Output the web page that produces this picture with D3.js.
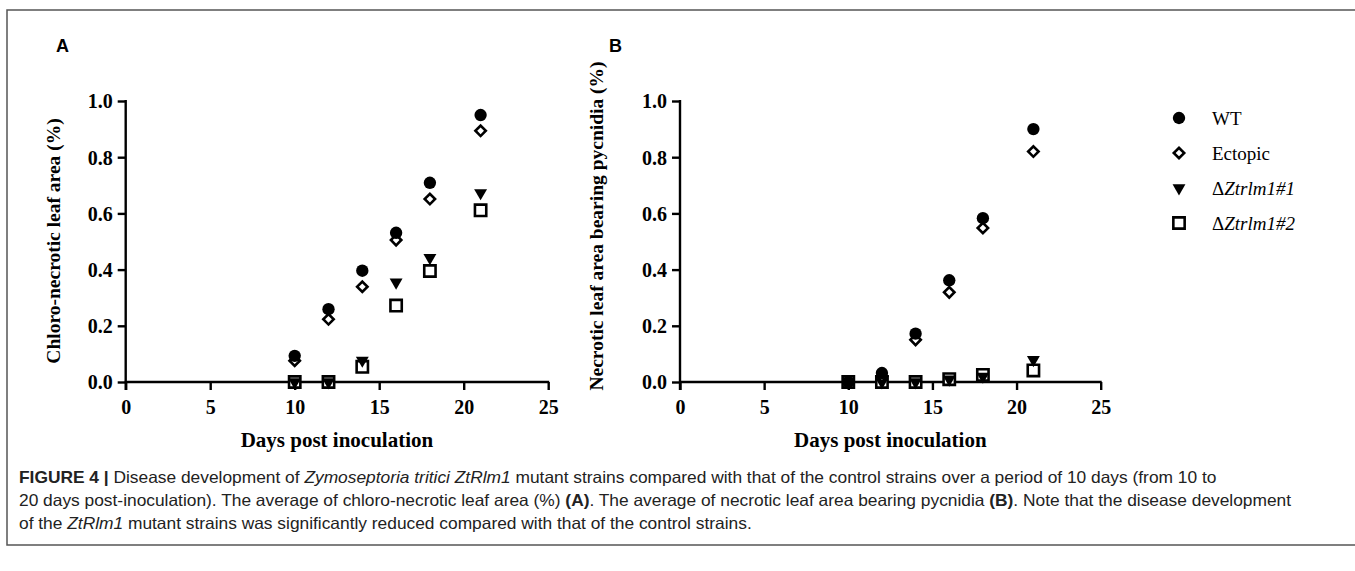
<!DOCTYPE html>
<html>
<head>
<meta charset="utf-8">
<script src="https://cdn.jsdelivr.net/npm/d3@7"></script>
<style>
  body { margin: 0; background: #fff; }
  svg { display: block; }
  .axis path, .axis line { stroke: #000; stroke-width: 2.4; }
  .axis text { font-family: "Liberation Serif", serif; font-weight: bold; font-size: 20px; fill: #000; }
</style>
</head>
<body>
<div id="chart"></div>
<script>
// data
var days = [10, 12, 14, 16, 18, 21];
var strains = ["WT", "Ectopic", "\u0394Ztrlm1#1", "\u0394Ztrlm1#2"];

// panel A: chloro-necrotic leaf area
var a_wt = [0.093, 0.259, 0.396, 0.531, 0.709, 0.95];
var a_ectopic = [0.076, 0.223, 0.339, 0.505, 0.651, 0.894];
var a_ko1 = [0.0, 0.0, 0.077, 0.355, 0.442, 0.673];
var a_ko2 = [0.0, 0.0, 0.054, 0.272, 0.395, 0.611];

// panel B: necrotic leaf area bearing pycnidia
var b_wt = [0.0, 0.032, 0.172, 0.362, 0.583, 0.90];
var b_ectopic = [0.0, 0.02, 0.15, 0.319, 0.548, 0.82];
var b_ko1 = [0.0, 0.0, 0.0, 0.01, 0.02, 0.079];
var b_ko2 = [0.0, 0.0, 0.0, 0.01, 0.025, 0.041];

var x_ticks = [0, 5, 10, 15, 20, 25];
var y_ticks = [0, 0.2, 0.4, 0.6, 0.8, 1.0];

var W = 1355, H = 571;

var svg = d3.select("#chart").append("svg")
    .attr("width", W)
    .attr("height", H);

// figure frame
svg.append("rect")
    .attr("x", 7).attr("y", 10)
    .attr("width", W + 10).attr("height", 535)
    .attr("fill", "none")
    .attr("stroke", "#555")
    .attr("stroke-width", 1.5);

// *** MARKERS *** //
var marker_styles = [
  { type: d3.symbolCircle, size: 120, rotate: 0, fill: "#000", stroke: "none" },
  { type: d3.symbolSquare, size: 54, rotate: 45, fill: "#fff", stroke: "#000" },
  { type: d3.symbolTriangle, size: 72, rotate: 180, fill: "#000", stroke: "none" },
  { type: d3.symbolSquare, size: 128, rotate: 0, fill: "#fff", stroke: "#000" }
];

var draw_marker = function(g, style, x, y) {
  g.append("path")
      .attr("d", d3.symbol().type(style.type).size(style.size)())
      .attr("transform", "translate(" + x + "," + y + ") rotate(" + style.rotate + ")")
      .attr("fill", style.fill)
      .attr("stroke", style.stroke)
      .attr("stroke-width", 2.6);
}

// *** PANEL *** //
var draw_panel = function(opts) {
  var x = d3.scaleLinear().domain([0, 25]).range([opts.x0, opts.x1]);
  var y = d3.scaleLinear().domain([0, 1]).range([382, 101]);

  var g = svg.append("g");

  g.append("g")
      .attr("class", "axis")
      .attr("transform", "translate(0,382)")
      .call(d3.axisBottom(x).tickValues(x_ticks).tickSize(8).tickPadding(5).tickSizeOuter(0))
      .call(function(s) { s.select(".domain").attr("d", "M" + (opts.x0 - 1) + ",0H" + (opts.x1 + 1)); });

  g.append("g")
      .attr("class", "axis")
      .attr("transform", "translate(" + opts.x0 + ",0)")
      .call(d3.axisLeft(y).tickValues(y_ticks).tickFormat(d3.format(".1f")).tickSize(8).tickPadding(5).tickSizeOuter(0))
      .call(function(s) { s.select(".domain").attr("d", "M0,390V100"); });

  g.selectAll(".axis .tick text").each(function() {
    var t = d3.select(this);
    if (t.attr("y") && +t.attr("y") > 0) t.attr("dy", "0.95em");
    else t.attr("dy", "0.34em");
  });

  // axis titles
  g.append("text")
      .attr("x", (opts.x0 + opts.x1) / 2)
      .attr("y", 447)
      .attr("text-anchor", "middle")
      .style("font-family", "Liberation Serif, serif")
      .style("font-weight", "bold")
      .style("font-size", "21px")
      .text("Days post inoculation");

  g.append("text")
      .attr("transform", "translate(" + opts.title_x + "," + opts.title_y + ") rotate(-90)")
      .attr("text-anchor", "middle")
      .style("font-family", "Liberation Serif, serif")
      .style("font-weight", "bold")
      .style("font-size", "19.5px")
      .text(opts.title);

  // panel letter
  svg.append("text")
      .attr("x", opts.letter_x)
      .attr("y", 52)
      .style("font-family", "Liberation Sans, Arial, sans-serif")
      .style("font-weight", "bold")
      .style("font-size", "18px")
      .text(opts.letter);

  // points, drawn back to front so circles sit on top
  for (var s = opts.series.length - 1; s >= 0; s--) {
    var values = opts.series[s];
    for (var i = 0; i < days.length; i++) {
      draw_marker(g, marker_styles[s], x(days[i]), y(values[i]));
    }
  }
}

draw_panel({
  x0: 125.7, x1: 548.2,
  title: "Chloro-necrotic leaf area (%)",
  title_x: 60, title_y: 241,
  letter: "A", letter_x: 56,
  series: [a_wt, a_ectopic, a_ko1, a_ko2]
});

draw_panel({
  x0: 680, x1: 1100.7,
  title: "Necrotic leaf area bearing pycnidia (%)",
  title_x: 603, title_y: 226,
  letter: "B", letter_x: 609,
  series: [b_wt, b_ectopic, b_ko1, b_ko2]
});

// *** LEGEND *** //
var legend_y = [118, 153, 188, 223];
for (var i = 0; i < strains.length; i++) {
  draw_marker(svg, marker_styles[i], 1179, legend_y[i]);
  var t = svg.append("text")
      .attr("x", 1212)
      .attr("y", legend_y[i])
      .attr("dy", "0.35em")
      .style("font-family", "Liberation Serif, serif")
      .style("font-size", "19px");
  if (i < 2) {
    t.text(strains[i]);
  } else {
    t.append("tspan").text("\u0394");
    t.append("tspan").style("font-style", "italic").text(strains[i].slice(1));
  }
}

// *** CAPTION *** //
var caption = [
  [["FIGURE 4 | ", "b"], ["Disease development of ", ""], ["Zymoseptoria tritici ZtRlm1", "i"],
   [" mutant strains compared with that of the control strains over a period of 10 days (from 10 to", ""]],
  [["20 days post-inoculation). The average of chloro-necrotic leaf area (%) ", ""], ["(A)", "b"],
   [". The average of necrotic leaf area bearing pycnidia ", ""], ["(B)", "b"],
   [". Note that the disease development", ""]],
  [["of the ", ""], ["ZtRlm1", "i"], [" mutant strains was significantly reduced compared with that of the control strains.", ""]]
];
var caption_y = [483, 506, 529];
var caption_nodes = [];

for (var l = 0; l < caption.length; l++) {
  var t = svg.append("text")
      .attr("x", 0).attr("y", 0)
      .style("font-family", "Liberation Sans, Arial, sans-serif")
      .style("font-size", "16.5px")
      .attr("fill", "#222");
  caption[l].forEach(function(part) {
    var sp = t.append("tspan").text(part[0]);
    if (part[1] == "b") sp.style("font-weight", "bold");
    if (part[1] == "i") sp.style("font-style", "italic");
  });
  caption_nodes.push(t);
}

// squeeze to the condensed face of the original
var k = (1292 - 19) / caption_nodes[1].node().getComputedTextLength();
caption_nodes.forEach(function(t, l) {
  t.attr("transform", "translate(19," + caption_y[l] + ") scale(" + k + ",1)");
});
</script>
</body>
</html>
